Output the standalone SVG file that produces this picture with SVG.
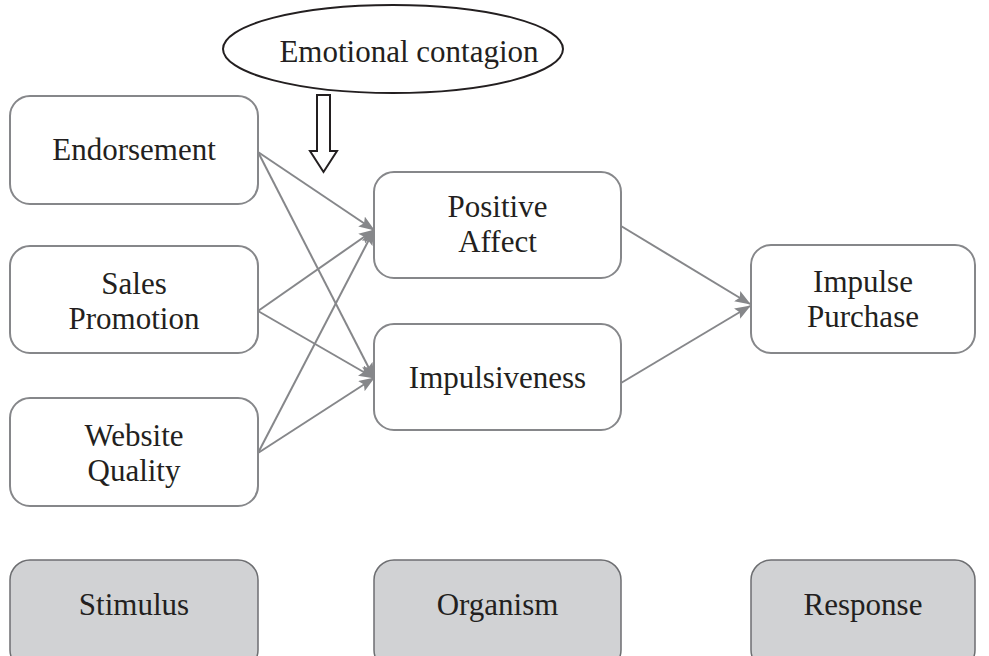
<svg xmlns="http://www.w3.org/2000/svg" width="989" height="656" viewBox="0 0 989 656">
<style>
.box{fill:#fff;stroke:#86878a;stroke-width:2}
.cat{fill:#d1d2d4;stroke:#6d6e71;stroke-width:1.5}
.t{font-family:"Liberation Serif","Times New Roman",serif;font-size:31px;fill:#231f20;text-anchor:middle}
.c{stroke:#86878a;stroke-width:2;fill:none;marker-end:url(#ah)}
</style>
<defs>
<marker id="ah" viewBox="0 0 16 12" refX="15" refY="6" markerWidth="16" markerHeight="12" markerUnits="userSpaceOnUse" orient="auto">
<path d="M0,0 L16,6 L0,12 L3,6 Z" fill="#86878a"/>
</marker>
</defs>
<rect width="989" height="656" fill="#fff"/>
<g id="emotional-contagion">
<ellipse cx="393" cy="49" rx="170" ry="44" fill="#fff" stroke="#231f20" stroke-width="2"/>
<text class="t" x="409" y="62">Emotional contagion</text>
</g>
<g id="ec-arrow">
<path d="M317,95 L330,95 L330,151 L337,151 L323.5,172 L310,151 L317,151 Z" fill="#fff" stroke="#231f20" stroke-width="2" stroke-linejoin="miter"/>
</g>
<g id="connectors">
<line class="c" x1="258" y1="152" x2="374" y2="230"/>
<line class="c" x1="258" y1="152" x2="374" y2="378"/>
<line class="c" x1="258" y1="311" x2="374" y2="230"/>
<line class="c" x1="258" y1="311" x2="374" y2="378"/>
<line class="c" x1="258" y1="453" x2="374" y2="230"/>
<line class="c" x1="258" y1="453" x2="374" y2="378"/>
<line class="c" x1="621" y1="226" x2="750" y2="304"/>
<line class="c" x1="621" y1="383" x2="750" y2="306"/>
</g>
<g id="endorsement">
<rect class="box" x="10" y="96" width="248" height="108" rx="20"/>
<text class="t" x="134" y="160">Endorsement</text>
</g>
<g id="sales-promotion">
<rect class="box" x="10" y="246" width="248" height="107" rx="20"/>
<text class="t" x="134" y="294">Sales</text>
<text class="t" x="134" y="329">Promotion</text>
</g>
<g id="website-quality">
<rect class="box" x="10" y="398" width="248" height="108" rx="20"/>
<text class="t" x="134" y="446">Website</text>
<text class="t" x="134" y="481">Quality</text>
</g>
<g id="positive-affect">
<rect class="box" x="374" y="172" width="247" height="106" rx="20"/>
<text class="t" x="497.5" y="217">Positive</text>
<text class="t" x="497.5" y="252">Affect</text>
</g>
<g id="impulsiveness">
<rect class="box" x="374" y="324" width="247" height="106" rx="20"/>
<text class="t" x="497.5" y="388">Impulsiveness</text>
</g>
<g id="impulse-purchase">
<rect class="box" x="751" y="245" width="224" height="108" rx="20"/>
<text class="t" x="863" y="292">Impulse</text>
<text class="t" x="863" y="327">Purchase</text>
</g>
<g id="stimulus">
<rect class="cat" x="10" y="560" width="248" height="110" rx="20"/>
<text class="t" x="134" y="615">Stimulus</text>
</g>
<g id="organism">
<rect class="cat" x="374" y="560" width="247" height="110" rx="20"/>
<text class="t" x="497.5" y="615">Organism</text>
</g>
<g id="response">
<rect class="cat" x="751" y="560" width="224" height="110" rx="20"/>
<text class="t" x="863" y="615">Response</text>
</g>
</svg>
